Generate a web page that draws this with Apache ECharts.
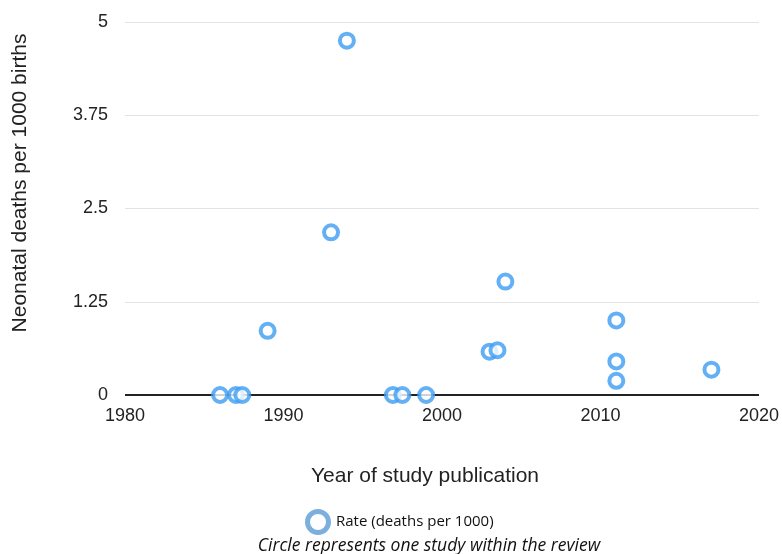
<!DOCTYPE html>
<html>
<head>
<meta charset="utf-8">
<script src="https://cdn.jsdelivr.net/npm/echarts@6/dist/echarts.min.js"></script>
<style>html,body{margin:0;padding:0;background:#fff;}#c{width:782px;height:554px;}</style>
</head>
<body>
<div id="c"></div>
<script>
const years = [1986, 1987, 1987.4, 1989, 1993, 1994, 1996.9, 1997.5, 1999, 2003, 2003.5, 2004, 2011, 2011, 2011, 2017];
const rates = [0, 0, 0, 0.86, 2.18, 4.75, 0, 0, 0, 0.58, 0.60, 1.52, 1.0, 0.45, 0.19, 0.34];
const yTicks = [0, 1.25, 2.5, 3.75, 5];
const xTicks = [1980, 1990, 2000, 2010, 2020];
const seriesName = 'Rate (deaths per 1000)';
const xTitle = 'Year of study publication';
const yTitle = 'Neonatal deaths per 1000 births';
const caption = 'Circle represents one study within the review';

const chart = echarts.init(document.getElementById('c'));
const blue = '#3D9CF2';
chart.setOption({
  animation: false,
  grid: { left: 125, right: 21, top: 22, bottom: 159, containLabel: false },
  xAxis: {
    type: 'value', min: xTicks[0], max: xTicks[xTicks.length - 1], interval: 10,
    axisLine: { show: false }, axisTick: { show: false }, splitLine: { show: false },
    axisLabel: { color: '#222', fontFamily: 'Liberation Sans', fontSize: 18, margin: 12, formatter: v => String(v) }
  },
  yAxis: {
    type: 'value', min: yTicks[0], max: yTicks[yTicks.length - 1], interval: 1.25,
    axisLine: { show: false }, axisTick: { show: false },
    splitLine: { lineStyle: { color: '#e3e3e3', width: 1 } },
    axisLabel: { color: '#222', fontFamily: 'Liberation Sans', fontSize: 18, margin: 17, formatter: v => String(v) }
  },
  legend: {
    data: [seriesName], left: 300, top: 504, itemWidth: 22, itemHeight: 21, icon: 'circle',
    itemGap: 6, padding: 5,
    textStyle: { color: '#111', fontFamily: 'Open Sans', fontSize: 15, padding: [0, 0, 0, 2] },
    itemStyle: { color: '#fff', borderColor: '#5B9BD5', borderWidth: 5 }
  },
  graphic: [
    { type: 'text', x: 425, y: 476, style: { text: xTitle, font: '21px "Liberation Sans"', fill: '#222', align: 'center', verticalAlign: 'middle' } },
    { type: 'text', x: 10, y: 183, rotation: Math.PI / 2, style: { text: yTitle, font: '21px "Liberation Sans"', fill: '#222', align: 'center', verticalAlign: 'top' } },
    { type: 'text', x: 429, y: 546, style: { text: caption, font: 'italic 17.5px "Open Sans"', fill: '#111', align: 'center', verticalAlign: 'middle' } }
  ],
  series: [
    {
      name: seriesName, type: 'scatter', symbol: 'circle', symbolSize: 14,
      itemStyle: { color: '#fff', borderColor: blue, borderWidth: 4 },
      data: years.map((y, i) => [y, rates[i]]),
      markLine: {
        silent: true, symbol: 'none', label: { show: false },
        lineStyle: { color: '#222', width: 2, type: 'solid' },
        data: [{ yAxis: 0 }], z: 1
      },
      z: 3
    }
  ]
});
</script>
</body>
</html>
